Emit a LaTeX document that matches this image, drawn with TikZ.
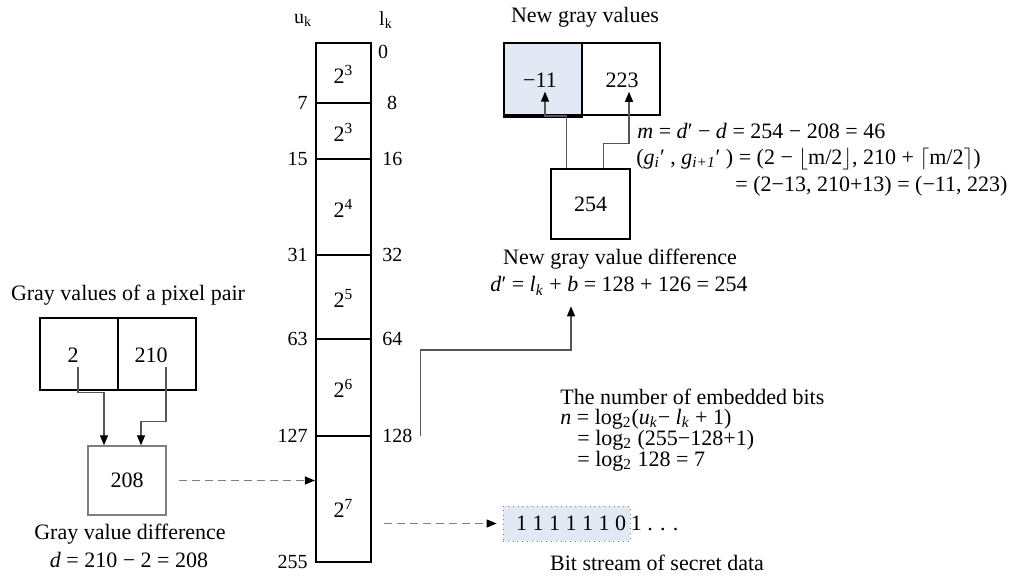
\documentclass[tikz,border=0pt]{standalone}
\usepackage{fontspec}
\setmainfont{Liberation Serif}
\usetikzlibrary{arrows.meta,calc}
\definecolor{cellblue}{HTML}{E3E9F4}
\definecolor{wiregray}{HTML}{555555}
\definecolor{dashgray}{HTML}{7F7F7F}
\newcommand{\numfont}{\fontsize{10}{12}\selectfont}

\begin{document}
\begin{tikzpicture}[x=0.5pt,y=-0.5pt,font=\fontsize{11}{13}\selectfont,
  band/.style={draw,line width=1.1pt,minimum width=27.5pt,inner sep=0pt},
  pixcell/.style={draw,line width=1pt,minimum width=39pt,minimum height=36pt},
  lab/.style={inner sep=2pt},
  num/.style={inner sep=2pt,font=\numfont},
  wire/.style={draw=wiregray,line width=0.6pt,-{Triangle[width=4pt,length=5pt,color=black]}},
  dwire/.style={wire,draw=dashgray,dash pattern=on 4pt off 2.5pt}]
\useasboundingbox (0,0) rectangle (1016,577);

% range table
\node[num] (uk) at (303,20) {u\textsubscript{k}};
\node[num] (lk) at (386,20) {l\textsubscript{k}};
\foreach \n/\ya/\yb/\e/\ym in {1/43/103/3/74,2/103/159/3/132,3/159/255/4/208,4/255/339/5/298,5/339/436/6/388,6/436/562/7/508}{
  \node[band,minimum height={(\yb-\ya)*0.5pt}] (c\n) at (343.5,{(\ya+\yb)/2}) {};
  \node[lab] (e\n) at (343.5,\ym) {2\textsuperscript{\e}};
}
\foreach \v/\y in {7/103,15/159,31/255,63/339,127/436,255/562}
  \node[num,anchor=east] (u\v) at (312,\y) {\v};
\node[num] (l0) at (383,52) {0};
\node[num] (l8) at (392,103) {8};
\foreach \v/\y in {16/159,32/255,64/339,128/436}
  \node[num,anchor=west] (l\v) at (378,\y) {\v};

% pixel pair and d
\node (pair) at (128,295) {Gray values of a pixel pair};
\node[pixcell] (p1) at (79,353.5) {};
\node[pixcell] (p2) at (157,353.5) {};
\node[lab] (t2) at (73,355) {2};
\node[lab] (t210) at (151,355) {210};
\node[draw=dashgray,line width=0.7pt,minimum width=39pt,minimum height=34.5pt] (b208) at (127,480.5) {208};
\node (gdiff) at (130,534) {Gray value difference};
\node (deq) at (129,560) {\textit{d} = 210 − 2 = 208};
\draw[wire] ([xshift=2.5pt]t2.south) -- ++(0,26) -| ([xshift=-11.5pt]b208.north);
\draw[wire] ([xshift=7.5pt]t210.south) -- ++(0,55) -| ([xshift=7pt]b208.north);
\draw[dwire] ([xshift=6pt]b208.east) -- (b208.east -| c6.west);

% new gray values
\node (newv) at (585,17) {New gray values};
\node[pixcell,fill=cellblue] (g1) at (543,79) {};
\node[pixcell] (g2) at (621,79) {};
\draw[line width=1.6pt] (g1.south west) -- (g1.south east);
\node[lab] (n11) at (540,80) {−11};
\node[lab] (n223) at (622,80) {223};
\node[draw,line width=0.7pt,minimum width=39.5pt,minimum height=35pt] (b254) at (590.5,204) {254};
\draw[wire] ([xshift=8pt]b254.north west) |- ($(g1.south)+(2,0)$) -- ($(n11.south)+(5,0)$);
\draw[wire] ([xshift=26.5pt]b254.north west) -- ++(0,-25) -| ($(n223.south)+(7,0)$);
\node (ndiff) at (620,259) {New gray value difference};
\node (dnew) at (619,286) {\textit{d}′ = \textit{l}\textsubscript{\textit{k}} + \textit{b} = 128 + 126 = 254};
\draw[wire] ([xshift=2pt]l128.east) -- ++(0,-86) -| ($(dnew.south)+(-48,4)$);

\node[lab,anchor=west] (meq) at (633,131) {\textit{m} = \textit{d}′ − \textit{d} = 254 − 208 = 46};
\node[lab,anchor=west] (geq) at (632,159) {(\textit{g\textsubscript{i}}′ , \textit{g\textsubscript{i+1}}′ ) = (2 − \(\lfloor\)m/2\(\rfloor\), 210 + \(\lceil\)m/2\(\rceil\))};
\node[lab,anchor=west] (geq2) at (731,186) {= (2−13, 210+13) = (−11, 223)};

% embedded bits
\node[lab,anchor=west] (nbits) at (556,397) {The number of embedded bits};
\node[lab,anchor=west] (neq1) at (556,419) {\textit{n} = log\textsubscript{2}(\textit{u\textsubscript{k}}− \textit{l\textsubscript{k}} + 1)};
\node[lab,anchor=west] (neq2) at (573,440) {= log\textsubscript{2} (255−128+1)};
\node[lab,anchor=west] (neq3) at (573,461) {= log\textsubscript{2} 128 = 7};
\node[draw=dashgray,dotted,fill=cellblue,minimum width=63.5pt,minimum height=17.5pt,inner sep=0pt] (bits) at (566.5,523.5) {\hspace*{4.5pt}1 1 1 1 1 1 0};
\node[anchor=west,inner sep=0pt] (more) at (bits.east) {1 . . .};
\node (bstream) at (657,563) {Bit stream of secret data};
\draw[dwire] ($(bits.west -| c6.east)+(12,0)$) -- ([xshift=-3pt]bits.west);
\end{tikzpicture}
\end{document}
